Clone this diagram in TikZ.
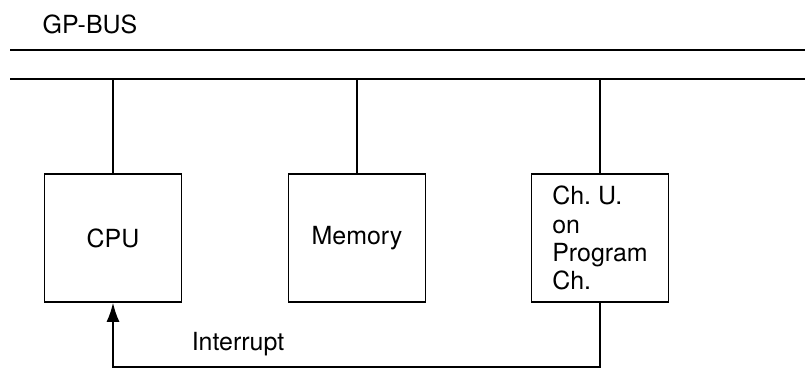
\documentclass[tikz,border=0pt]{standalone}
\usepackage{fontspec}
\setmainfont{TeX Gyre Heros}
\usepackage{tikz}
\usetikzlibrary{positioning, arrows.meta, calc}

\tikzset{
  labelfont/.style={font=\fontsize{14.2}{16}\selectfont},
  unitbox/.style={draw, line width=1.1pt, minimum width=78pt, minimum height=72.5pt,
                  align=left, inner sep=0pt, labelfont},
  busline/.style={line width=1.2pt},
  wire/.style={line width=1.1pt}
}

\begin{document}
\begin{tikzpicture}[x=0.02cm, y=0.02cm]
  \useasboundingbox (0,0) rectangle (805,369);
  % bus
  \node[labelfont] (bustitle) at (90,345) {GP-BUS};
  \coordinate (busAw) at (10,319);
  \coordinate (busAe) at (805,319);
  \coordinate (busBw) at (10,290);
  \coordinate (busBe) at (805,290);
  \draw[busline] (busAw) -- (busAe);
  \draw[busline] (busBw) -- (busBe);
  % units on the bus
  \node[unitbox] (cpu) at (113,131) {CPU};
  \node[unitbox] (mem) at (357,131) {Memory};
  \node[unitbox] (chu) at (600,131) {Ch.~U.\\on\\Program\\Ch.};
  \foreach \u in {cpu, mem, chu}
    \draw[wire] (\u.north) -- (\u.north |- busBw);
  % interrupt line
  \coordinate (irqcorner) at ($(chu.south)+(0,-64)$);
  \draw[wire, -{Latex[length=11pt, width=7.5pt]}]
        (chu.south) -- (irqcorner) -- (irqcorner -| cpu.south) -- (cpu.south);
  \node[labelfont] (irqlabel) at (238,25) {Interrupt};
\end{tikzpicture}
\end{document}
